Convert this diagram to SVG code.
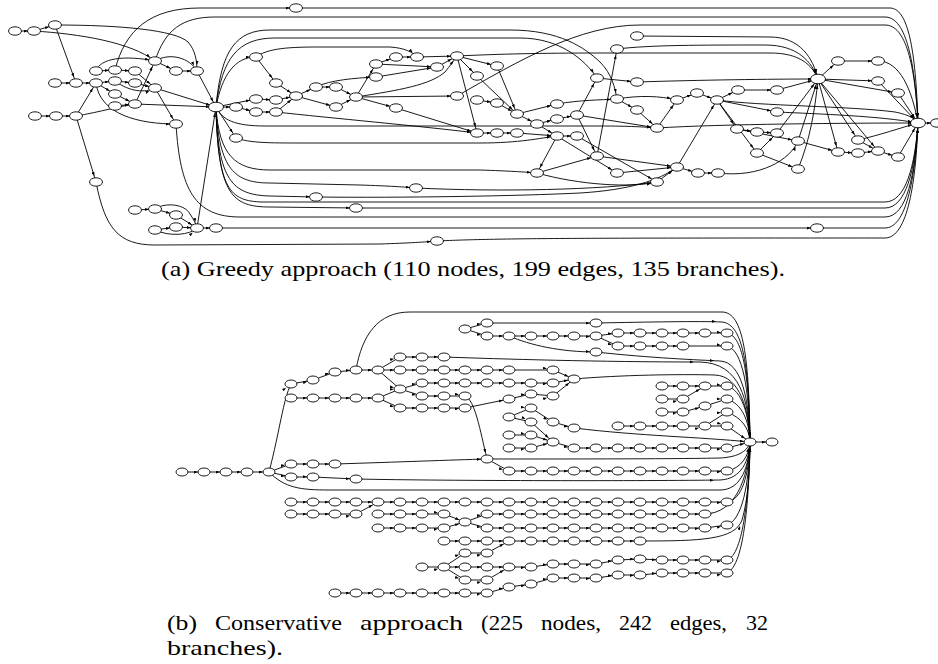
<svg xmlns="http://www.w3.org/2000/svg" xmlns:xlink="http://www.w3.org/1999/xlink" width="938" height="664" viewBox="0 0 938 664">
<style>
.e path,.e polyline{fill:none;stroke:#000;stroke-width:0.9;marker-end:url(#ar)}
.e .m{marker-mid:url(#ar)}
.nd{fill:#fff;stroke:#000;stroke-width:0.9}
.cap{font-family:"Liberation Serif","DejaVu Serif",serif;font-size:22px;fill:#000}
</style>
<defs>
<marker id="ar" viewBox="0 0 4 3" refX="10.2" refY="1.5" markerWidth="4" markerHeight="3" markerUnits="userSpaceOnUse" orient="auto"><path d="M0,0L4,1.5L0,3z" fill="#000"/></marker>
<ellipse id="na" class="nd" rx="6.5" ry="4.2"/>
<ellipse id="nh" class="nd" rx="7.5" ry="4.8"/>
<ellipse id="nb" class="nd" rx="6" ry="4"/>
</defs>
<rect width="938" height="664" fill="#fff"/>

<g id="connectors-a" class="e">
<path d="M15,31L34,31"/><path d="M34,31L55,25"/>
<path d="M34,31C80,34 130,42 155,61"/>
<path d="M55,25C120,25 175,30 188,42C195,50 197,60 197,71"/>
<path d="M55,25L76,83"/>
<path d="M55,83L76,83"/><path d="M76,83L96,83"/><path d="M96,83L115,81"/><path d="M96,83L115,94"/>
<path d="M96,83C100,115 140,124 176,124"/>
<path d="M115,81L135,83"/><path d="M135,83L155,88"/>
<path d="M115,81C130,92 145,93 155,88"/>
<path d="M115,94L135,104"/><path d="M115,106L135,104"/>
<path d="M35,116L56,116"/><path d="M56,116L76,116"/><path d="M76,116L96,83"/>
<path d="M76,116C100,112 120,106 135,104"/>
<path d="M76,116L96,182"/>
<path d="M96,71L115,70"/>
<path d="M96,71C100,58 125,55 155,61"/>
<path d="M115,70L135,71"/><path d="M135,71L155,88"/>
<path d="M115,70C125,30 150,8 200,8L296,8"/>
<path d="M155,61L176,71"/><path d="M176,71L197,71"/>
<path d="M155,61C170,52 190,58 197,71"/>
<path d="M155,61C165,30 182,17 215,17L885,17C907,17 915,65 918,123"/>
<path d="M135,104L155,61"/><path d="M135,104L216,107"/><path d="M155,88L216,107"/><path d="M155,88L176,124"/><path d="M197,71L216,107"/>
<path d="M176,124C180,190 195,217 240,217L885,217C907,217 915,175 918,123"/>
<path d="M96,182C105,228 118,245 155,245L380,244C410,243 425,242 437,241"/>
<path d="M437,241C500,238 600,238 885,238C908,238 916,180 918,123"/>
<path d="M135,210L155,209"/><path d="M155,209L176,215"/><path d="M176,215L197,228"/>
<path d="M155,209C165,202 185,204 190,214C194,220 196,224 197,228"/>
<path d="M155,230L176,227"/><path d="M176,227L197,228"/>
<path d="M155,230C170,237 190,235 197,228"/>
<path d="M197,228L216,107"/><path d="M197,228L216,228"/>
<path d="M216,228L817,228"/>
<path d="M817,228L885,228C906,228 915,180 918,123"/>
<path d="M296,8L890,8C910,8 916,60 918,123"/>
<path d="M216,107L236,107"/><path d="M216,107L236,138"/><path d="M216,107L256,99"/>
<path d="M236,107L256,112"/>
<path d="M216,107C222,75 235,57 256,57"/>
<path d="M216,107C221,50 236,30 270,30L510,30C560,30 585,48 600,62C612,74 615,88 617,99"/>
<path d="M216,107C222,58 238,38 275,38L520,38C560,38 585,60 597,78"/>
<path d="M216,107C222,120 235,126 265,126L600,126C630,126 645,127 657,128"/>
<path d="M236,138C250,143 270,143 300,143L480,143C520,143 540,138 557,136"/>
<path d="M216,107C219,155 235,170 270,170L480,170C510,171 525,172 537,173"/>
<path d="M216,107C219,170 235,183 270,183L360,185C390,186 405,187 416,188"/>
<path d="M416,188C500,192 600,190 657,182"/>
<path d="M216,107C218,180 232,195 270,196L316,197"/>
<path d="M316,197C400,198 520,196 580,193C630,190 660,180 677,167"/>
<path d="M216,107C218,195 232,207 270,207L356,208"/>
<path d="M356,208L885,208C906,208 915,170 918,123"/>
<path d="M216,107C218,190 230,201 262,202L885,202C906,202 915,165 918,123"/>
<path d="M256,57C268,48 290,47 320,47L390,47C405,48 412,52 417,57"/>
<path d="M256,57L276,83"/><path d="M276,83L296,96"/>
<path d="M256,99L276,100"/><path d="M276,100L296,96"/>
<path d="M256,112L276,112"/><path d="M276,112L296,96"/>
<path d="M296,96L316,87"/><path d="M316,87L336,87"/><path d="M336,87L356,97"/>
<path d="M296,96L336,107"/><path d="M336,107L356,97"/>
<path d="M316,87C330,80 355,78 376,77"/>
<path d="M356,97L376,64"/><path d="M356,97L396,108"/><path d="M356,97L457,96"/>
<path d="M356,97C400,90 430,85 445,72C450,66 454,60 457,56"/>
<path d="M376,64L396,57"/><path d="M396,57L417,57"/><path d="M417,57L457,56"/>
<path d="M376,64L437,67"/><path d="M376,77L437,67"/><path d="M437,67L457,56"/>
<path d="M457,56L477,76"/><path d="M457,56L497,66"/><path d="M457,56L477,133"/>
<path d="M457,56C500,54 540,53 600,53L770,53C800,53 812,65 818,79"/>
<path d="M276,112C330,118 420,126 477,133"/>
<path d="M396,108L477,133"/>
<path d="M457,96C520,60 580,25 640,25L885,25C906,25 915,65 918,123"/>
<path d="M477,76L517,114"/><path d="M477,100L497,103"/><path d="M497,103L517,114"/><path d="M497,66L517,114"/>
<path d="M517,114L557,104"/><path d="M517,114L537,124"/><path d="M537,124L557,119"/><path d="M557,119L577,115"/>
<path d="M537,124L557,136"/>
<path d="M557,104C580,100 600,100 617,99"/>
<path d="M577,115L597,78"/><path d="M577,115L597,156"/><path d="M577,115L657,128"/>
<path d="M597,78L637,82"/>
<path d="M617,99L637,110"/><path d="M617,99C640,95 660,96 677,100"/>
<path d="M637,110L657,128"/><path d="M657,128L677,100"/>
<path d="M677,100L697,93"/><path d="M697,93L717,100"/>
<path d="M477,133L497,133"/><path d="M497,133L517,133"/><path d="M517,133L557,136"/><path d="M557,136L577,136"/>
<path d="M557,136L537,173"/><path d="M557,136L617,173"/>
<path d="M577,136L657,182"/>
<path d="M537,173L597,156"/>
<path d="M537,173C580,185 630,188 657,182"/>
<path d="M597,156L617,49"/><path d="M597,156L677,167"/><path d="M617,173L677,167"/><path d="M657,182L677,167"/>
<path d="M677,167L698,173"/><path d="M698,173L718,173"/>
<path d="M677,167L717,100"/>
<path d="M718,173C760,178 790,160 798,141"/>
<path d="M637,36L770,37C800,37 813,58 818,79"/>
<path d="M617,49C650,45 700,45 765,45C798,45 812,62 818,79"/>
<path d="M637,82C700,80 770,79 818,79"/>
<path d="M717,100L738,90"/><path d="M738,90L777,90"/><path d="M777,90L818,79"/>
<path d="M717,100L737,129"/><path d="M717,100L757,153"/><path d="M717,100L777,112"/>
<path d="M717,100C760,106 850,106 895,112C910,115 915,119 918,123"/>
<path d="M777,112C820,114 880,116 918,123"/>
<path d="M657,128C720,124 850,123 918,123"/>
<path d="M737,129L757,132"/><path d="M757,132L777,133"/><path d="M757,153L777,133"/><path d="M777,133L818,79"/>
<path d="M737,129L798,141"/><path d="M798,141L818,79"/><path d="M798,141L838,152"/>
<path d="M757,153L798,169"/>
<path d="M798,169C810,140 815,110 818,79"/>
<path d="M818,79L838,61"/><path d="M838,61L878,61"/>
<path d="M878,61C900,61 912,90 918,123"/>
<path d="M818,79L878,81"/><path d="M878,81L918,123"/>
<path d="M818,79L898,93"/><path d="M898,93L918,123"/>
<path d="M818,79L858,140"/><path d="M818,79L838,152"/><path d="M818,79L878,151"/>
<path d="M858,140C880,135 900,128 918,123"/>
<path d="M838,152L858,153"/><path d="M858,153L878,151"/><path d="M858,140L878,151"/><path d="M878,151L898,157"/>
<path d="M898,157L918,123"/>
<path d="M918,123L937,123"/>
</g>

<g id="connectors-b" class="e">
<path class="m" d="M182,472L204,472L226,472L247,472L269,472"/>
<path class="m" d="M269,472C280,430 283,400 291,384L313,380L335,372L356,370L378,370"/>
<path class="m" d="M291,398L313,398L335,398L356,398L378,398"/>
<path class="m" d="M378,370L400,357L422,357L444,357C500,359 600,362 700,362C740,363 749,400 750,442"/>
<path class="m" d="M378,370L400,370L422,370L444,370L465,370L487,370L509,370L553,370L574,379"/>
<path class="m" d="M378,370L400,389L422,383L444,383L465,383L487,383L509,383L531,383L553,383L574,379"/>
<path class="m" d="M378,398L400,389L422,396L444,396L465,396C475,400 480,430 487,459"/>
<path class="m" d="M378,398L400,408L422,408L444,408L465,408L509,399L531,394L553,396L574,379"/>
<path d="M574,379C620,375 680,374 715,375C740,376 749,410 750,442"/>
<path d="M356,370C362,335 378,312 410,312L722,312C744,312 749,360 750,442"/>
<path class="m" d="M465,329L487,323L596,323C650,322 700,321 722,322C744,324 749,370 750,442"/>
<path class="m" d="M465,329L487,336L509,336L531,336L553,336L574,336L596,336L618,333L640,333L662,333L683,333L705,333L727,333C744,336 749,380 750,442"/>
<path class="m" d="M596,336L618,346L640,346L662,346L683,346L727,346C743,350 749,390 750,442"/>
<path class="m" d="M509,336C530,345 560,352 596,352C650,358 700,360 720,361C742,362 749,400 750,442"/>
<path class="m" d="M269,472L291,464L313,464L335,464C400,462 450,460 487,459"/>
<path class="m" d="M269,472L291,477L313,477L356,479C450,481 650,481 720,480C742,479 749,460 750,442"/>
<path d="M269,472C285,488 300,490 330,490L720,490C742,490 749,465 750,442"/>
<path class="m" d="M487,459L509,471L531,471L553,471L574,471L596,471L618,471L640,471L662,471L683,471L705,471L727,471C742,468 749,455 750,442"/>
<path d="M487,459C560,459 680,459 720,458C740,457 748,450 750,442"/>
<path class="m" d="M509,417L531,408L553,422L574,428C640,436 700,437 750,442"/>
<path class="m" d="M509,417L531,422L553,442"/>
<path class="m" d="M509,435L531,435L553,442"/>
<path class="m" d="M509,448L531,448L553,442"/>
<path class="m" d="M553,442L574,448L596,448L618,448L640,448L662,448L683,448L705,448L727,448L750,442"/>
<path class="m" d="M662,386L683,386L705,386L727,386C742,390 749,415 750,442"/>
<path class="m" d="M662,399L683,399L705,386"/>
<path class="m" d="M662,412L683,412L705,406L727,399C742,404 749,420 750,442"/>
<path class="m" d="M618,426L640,426L662,426L683,426L705,426L727,412C742,418 749,428 750,442"/>
<path class="m" d="M705,426L727,426L750,442"/>
<path d="M750,442L772,442"/>
<path class="m" d="M291,502L313,502L335,502L356,502L378,502L400,502L422,502L444,502L465,502L487,502L509,502L531,502L553,502L574,502L596,502L618,502L640,502L662,502L683,502L705,502L727,502C742,500 749,475 750,442"/>
<path class="m" d="M291,514L313,514L335,514L356,514L378,502"/>
<path class="m" d="M378,514L400,514L422,514L444,514L465,522"/>
<path class="m" d="M378,528L400,528L422,528L444,528L465,522"/>
<path class="m" d="M465,522L487,514L509,514L531,514L553,514L574,514L596,514L618,514L640,514L662,514L683,514L705,514C735,513 748,480 750,442"/>
<path class="m" d="M465,522L487,528L509,528L531,528L553,528L574,528L596,528L618,528L640,528L662,528L683,528L705,528L727,525C742,520 749,485 750,442"/>
<path class="m" d="M444,541L465,541L487,541L509,541L531,541L553,541L574,541L596,541L618,541L640,541C700,541 735,540 742,520C748,500 750,470 750,442"/>
<path class="m" d="M422,567L444,567L465,553L487,553L509,541"/>
<path class="m" d="M444,567L465,567L487,567L509,567L531,567L553,564L574,564L596,564L618,560L640,559L662,560L683,560L705,560L727,560C744,555 749,490 750,442"/>
<path class="m" d="M444,567L465,580L487,580L509,567"/>
<path class="m" d="M335,593L356,593L378,593L400,593L422,593L444,593L465,593L487,593L509,587L531,584L553,578L574,578L596,578L618,575L640,575L662,573L683,573L705,573L727,573C745,565 749,495 750,442"/>
</g>

<g id="nodes-a">
<g id="a1"><use href="#na" x="15" y="31"/></g><g id="a2"><use href="#na" x="34" y="31"/></g><g id="a3"><use href="#na" x="55" y="25"/></g>
<g id="a4"><use href="#na" x="96" y="71"/></g><g id="a5"><use href="#na" x="115" y="70"/></g><g id="a6"><use href="#na" x="135" y="71"/></g><g id="a7"><use href="#na" x="155" y="61"/></g><g id="a8"><use href="#na" x="176" y="71"/></g><g id="a9"><use href="#na" x="197" y="71"/></g>
<g id="a10"><use href="#na" x="55" y="83"/></g><g id="a11"><use href="#na" x="76" y="83"/></g><g id="a12"><use href="#na" x="96" y="83"/></g><g id="a13"><use href="#na" x="115" y="81"/></g><g id="a14"><use href="#na" x="135" y="83"/></g><g id="a15"><use href="#na" x="155" y="88"/></g>
<g id="a16"><use href="#na" x="115" y="94"/></g><g id="a17"><use href="#na" x="115" y="106"/></g><g id="a18"><use href="#na" x="135" y="104"/></g>
<g id="a19"><use href="#na" x="35" y="116"/></g><g id="a20"><use href="#na" x="56" y="116"/></g><g id="a21"><use href="#na" x="76" y="116"/></g>
<g id="a22"><use href="#na" x="176" y="124"/></g><g id="a23"><use href="#nh" x="216" y="107"/></g><g id="a24"><use href="#na" x="236" y="107"/></g><g id="a25"><use href="#na" x="236" y="138"/></g><g id="a26"><use href="#na" x="96" y="182"/></g>
<g id="a27"><use href="#na" x="135" y="210"/></g><g id="a28"><use href="#na" x="155" y="209"/></g><g id="a29"><use href="#na" x="176" y="215"/></g><g id="a30"><use href="#na" x="176" y="227"/></g><g id="a31"><use href="#na" x="155" y="230"/></g><g id="a32"><use href="#na" x="197" y="228"/></g><g id="a33"><use href="#na" x="216" y="228"/></g>
<g id="a34"><use href="#na" x="296" y="8"/></g><g id="a35"><use href="#na" x="256" y="57"/></g><g id="a36"><use href="#na" x="276" y="83"/></g><g id="a37"><use href="#na" x="296" y="96"/></g><g id="a38"><use href="#na" x="316" y="87"/></g><g id="a39"><use href="#na" x="336" y="87"/></g><g id="a40"><use href="#na" x="356" y="97"/></g>
<g id="a41"><use href="#na" x="376" y="64"/></g><g id="a42"><use href="#na" x="376" y="77"/></g><g id="a43"><use href="#na" x="396" y="57"/></g><g id="a44"><use href="#na" x="417" y="57"/></g><g id="a45"><use href="#na" x="437" y="67"/></g><g id="a46"><use href="#na" x="457" y="56"/></g>
<g id="a47"><use href="#na" x="256" y="99"/></g><g id="a48"><use href="#na" x="276" y="100"/></g><g id="a49"><use href="#na" x="256" y="112"/></g><g id="a50"><use href="#na" x="276" y="112"/></g><g id="a51"><use href="#na" x="336" y="107"/></g><g id="a52"><use href="#na" x="396" y="108"/></g><g id="a53"><use href="#na" x="457" y="96"/></g>
<g id="a54"><use href="#na" x="477" y="76"/></g><g id="a55"><use href="#na" x="477" y="100"/></g><g id="a56"><use href="#na" x="477" y="133"/></g>
<g id="a57"><use href="#na" x="416" y="188"/></g><g id="a58"><use href="#na" x="316" y="197"/></g><g id="a59"><use href="#na" x="356" y="208"/></g><g id="a60"><use href="#na" x="437" y="241"/></g>
<g id="a61"><use href="#na" x="637" y="36"/></g><g id="a62"><use href="#na" x="617" y="49"/></g><g id="a63"><use href="#na" x="497" y="66"/></g><g id="a64"><use href="#na" x="597" y="78"/></g><g id="a65"><use href="#na" x="637" y="82"/></g>
<g id="a66"><use href="#na" x="497" y="103"/></g><g id="a67"><use href="#na" x="517" y="114"/></g><g id="a68"><use href="#na" x="537" y="124"/></g><g id="a69"><use href="#na" x="557" y="104"/></g><g id="a70"><use href="#na" x="557" y="119"/></g><g id="a71"><use href="#na" x="577" y="115"/></g>
<g id="a72"><use href="#na" x="617" y="99"/></g><g id="a73"><use href="#na" x="637" y="110"/></g><g id="a74"><use href="#na" x="677" y="100"/></g><g id="a75"><use href="#na" x="697" y="93"/></g><g id="a76"><use href="#na" x="717" y="100"/></g>
<g id="a77"><use href="#na" x="497" y="133"/></g><g id="a78"><use href="#na" x="517" y="133"/></g><g id="a79"><use href="#na" x="557" y="136"/></g><g id="a80"><use href="#na" x="577" y="136"/></g><g id="a81"><use href="#na" x="657" y="128"/></g>
<g id="a82"><use href="#na" x="597" y="156"/></g><g id="a83"><use href="#na" x="537" y="173"/></g><g id="a84"><use href="#na" x="617" y="173"/></g><g id="a85"><use href="#na" x="657" y="182"/></g><g id="a86"><use href="#na" x="677" y="167"/></g><g id="a87"><use href="#na" x="698" y="173"/></g><g id="a88"><use href="#na" x="718" y="173"/></g>
<g id="a89"><use href="#na" x="838" y="61"/></g><g id="a90"><use href="#na" x="878" y="61"/></g><g id="a91"><use href="#nh" x="818" y="79"/></g><g id="a92"><use href="#na" x="878" y="81"/></g><g id="a93"><use href="#na" x="898" y="93"/></g>
<g id="a94"><use href="#na" x="738" y="90"/></g><g id="a95"><use href="#na" x="777" y="90"/></g><g id="a97"><use href="#na" x="777" y="112"/></g>
<g id="a98"><use href="#nh" x="918" y="123"/></g><g id="a99"><use href="#na" x="937" y="123"/></g>
<g id="a100"><use href="#na" x="737" y="129"/></g><g id="a101"><use href="#na" x="757" y="132"/></g><g id="a102"><use href="#na" x="777" y="133"/></g><g id="a103"><use href="#na" x="798" y="141"/></g><g id="a104"><use href="#na" x="858" y="140"/></g><g id="a105"><use href="#na" x="838" y="152"/></g><g id="a106"><use href="#na" x="858" y="153"/></g><g id="a107"><use href="#na" x="878" y="151"/></g><g id="a108"><use href="#na" x="898" y="157"/></g><g id="a109"><use href="#na" x="757" y="153"/></g><g id="a110"><use href="#na" x="798" y="169"/></g><g id="a111"><use href="#na" x="817" y="228"/></g>
</g>

<g id="nodes-b">
<g id="b1"><use href="#nb" x="182" y="472"/></g><g id="b2"><use href="#nb" x="204" y="472"/></g><g id="b3"><use href="#nb" x="226" y="472"/></g><g id="b4"><use href="#nb" x="247" y="472"/></g><g id="b5"><use href="#nb" x="269" y="472"/></g>
<g id="b6"><use href="#nb" x="291" y="384"/></g><g id="b7"><use href="#nb" x="313" y="380"/></g><g id="b8"><use href="#nb" x="335" y="372"/></g><g id="b9"><use href="#nb" x="356" y="370"/></g><g id="b10"><use href="#nb" x="378" y="370"/></g>
<g id="b11"><use href="#nb" x="291" y="398"/></g><g id="b12"><use href="#nb" x="313" y="398"/></g><g id="b13"><use href="#nb" x="335" y="398"/></g><g id="b14"><use href="#nb" x="356" y="398"/></g><g id="b15"><use href="#nb" x="378" y="398"/></g>
<g id="b16"><use href="#nb" x="400" y="357"/></g><g id="b17"><use href="#nb" x="422" y="357"/></g><g id="b18"><use href="#nb" x="444" y="357"/></g>
<g id="b19"><use href="#nb" x="400" y="370"/></g><g id="b20"><use href="#nb" x="422" y="370"/></g><g id="b21"><use href="#nb" x="444" y="370"/></g><g id="b22"><use href="#nb" x="465" y="370"/></g><g id="b23"><use href="#nb" x="487" y="370"/></g><g id="b24"><use href="#nb" x="509" y="370"/></g><g id="b25"><use href="#nb" x="553" y="370"/></g>
<g id="b26"><use href="#nb" x="400" y="389"/></g>
<g id="b27"><use href="#nb" x="422" y="383"/></g><g id="b28"><use href="#nb" x="444" y="383"/></g><g id="b29"><use href="#nb" x="465" y="383"/></g><g id="b30"><use href="#nb" x="487" y="383"/></g><g id="b31"><use href="#nb" x="509" y="383"/></g><g id="b32"><use href="#nb" x="531" y="383"/></g><g id="b33"><use href="#nb" x="553" y="383"/></g>
<g id="b34"><use href="#nb" x="422" y="396"/></g><g id="b35"><use href="#nb" x="444" y="396"/></g><g id="b36"><use href="#nb" x="465" y="396"/></g>
<g id="b37"><use href="#nb" x="400" y="408"/></g><g id="b38"><use href="#nb" x="422" y="408"/></g><g id="b39"><use href="#nb" x="444" y="408"/></g><g id="b40"><use href="#nb" x="465" y="408"/></g><g id="b41"><use href="#nb" x="509" y="399"/></g><g id="b42"><use href="#nb" x="531" y="394"/></g><g id="b43"><use href="#nb" x="553" y="396"/></g>
<g id="b44"><use href="#nb" x="574" y="379"/></g>
<g id="b45"><use href="#nb" x="465" y="329"/></g><g id="b46"><use href="#nb" x="487" y="323"/></g><g id="b47"><use href="#nb" x="596" y="323"/></g>
<g id="b48"><use href="#nb" x="487" y="336"/></g><g id="b49"><use href="#nb" x="509" y="336"/></g><g id="b50"><use href="#nb" x="531" y="336"/></g><g id="b51"><use href="#nb" x="553" y="336"/></g><g id="b52"><use href="#nb" x="574" y="336"/></g><g id="b53"><use href="#nb" x="596" y="336"/></g>
<g id="b54"><use href="#nb" x="618" y="333"/></g><g id="b55"><use href="#nb" x="640" y="333"/></g><g id="b56"><use href="#nb" x="662" y="333"/></g><g id="b57"><use href="#nb" x="683" y="333"/></g><g id="b58"><use href="#nb" x="705" y="333"/></g><g id="b59"><use href="#nb" x="727" y="333"/></g>
<g id="b60"><use href="#nb" x="618" y="346"/></g><g id="b61"><use href="#nb" x="640" y="346"/></g><g id="b62"><use href="#nb" x="662" y="346"/></g><g id="b63"><use href="#nb" x="683" y="346"/></g><g id="b64"><use href="#nb" x="727" y="346"/></g>
<g id="b65"><use href="#nb" x="596" y="352"/></g>
<g id="b66"><use href="#nb" x="291" y="464"/></g><g id="b67"><use href="#nb" x="313" y="464"/></g><g id="b68"><use href="#nb" x="335" y="464"/></g>
<g id="b69"><use href="#nb" x="291" y="477"/></g><g id="b70"><use href="#nb" x="313" y="477"/></g><g id="b71"><use href="#nb" x="356" y="479"/></g>
<g id="b72"><use href="#nb" x="487" y="459"/></g>
<g id="b73"><use href="#nb" x="509" y="471"/></g><g id="b74"><use href="#nb" x="531" y="471"/></g><g id="b75"><use href="#nb" x="553" y="471"/></g><g id="b76"><use href="#nb" x="574" y="471"/></g><g id="b77"><use href="#nb" x="596" y="471"/></g><g id="b78"><use href="#nb" x="618" y="471"/></g><g id="b79"><use href="#nb" x="640" y="471"/></g><g id="b80"><use href="#nb" x="662" y="471"/></g><g id="b81"><use href="#nb" x="683" y="471"/></g><g id="b82"><use href="#nb" x="705" y="471"/></g><g id="b83"><use href="#nb" x="727" y="471"/></g>
<g id="b84"><use href="#nb" x="509" y="417"/></g><g id="b85"><use href="#nb" x="531" y="408"/></g><g id="b86"><use href="#nb" x="531" y="422"/></g><g id="b87"><use href="#nb" x="553" y="422"/></g><g id="b88"><use href="#nb" x="574" y="428"/></g>
<g id="b89"><use href="#nb" x="509" y="435"/></g><g id="b90"><use href="#nb" x="531" y="435"/></g><g id="b91"><use href="#nb" x="509" y="448"/></g><g id="b92"><use href="#nb" x="531" y="448"/></g><g id="b93"><use href="#nb" x="553" y="442"/></g>
<g id="b94"><use href="#nb" x="574" y="448"/></g><g id="b95"><use href="#nb" x="596" y="448"/></g><g id="b96"><use href="#nb" x="618" y="448"/></g><g id="b97"><use href="#nb" x="640" y="448"/></g><g id="b98"><use href="#nb" x="662" y="448"/></g><g id="b99"><use href="#nb" x="683" y="448"/></g><g id="b100"><use href="#nb" x="705" y="448"/></g><g id="b101"><use href="#nb" x="727" y="448"/></g>
<g id="b102"><use href="#nb" x="662" y="386"/></g><g id="b103"><use href="#nb" x="683" y="386"/></g><g id="b104"><use href="#nb" x="705" y="386"/></g><g id="b105"><use href="#nb" x="727" y="386"/></g>
<g id="b106"><use href="#nb" x="662" y="399"/></g><g id="b107"><use href="#nb" x="683" y="399"/></g><g id="b108"><use href="#nb" x="727" y="399"/></g>
<g id="b109"><use href="#nb" x="662" y="412"/></g><g id="b110"><use href="#nb" x="683" y="412"/></g><g id="b111"><use href="#nb" x="705" y="406"/></g>
<g id="b112"><use href="#nb" x="618" y="426"/></g><g id="b113"><use href="#nb" x="640" y="426"/></g><g id="b114"><use href="#nb" x="662" y="426"/></g><g id="b115"><use href="#nb" x="683" y="426"/></g><g id="b116"><use href="#nb" x="705" y="426"/></g><g id="b117"><use href="#nb" x="727" y="412"/></g><g id="b118"><use href="#nb" x="727" y="426"/></g>
<g id="b119"><use href="#nb" x="750" y="442"/></g><g id="b120"><use href="#nb" x="772" y="442"/></g>
<g id="b121"><use href="#nb" x="291" y="502"/></g><g id="b122"><use href="#nb" x="313" y="502"/></g><g id="b123"><use href="#nb" x="335" y="502"/></g><g id="b124"><use href="#nb" x="356" y="502"/></g><g id="b125"><use href="#nb" x="378" y="502"/></g><g id="b126"><use href="#nb" x="400" y="502"/></g><g id="b127"><use href="#nb" x="422" y="502"/></g><g id="b128"><use href="#nb" x="444" y="502"/></g><g id="b129"><use href="#nb" x="465" y="502"/></g><g id="b130"><use href="#nb" x="487" y="502"/></g><g id="b131"><use href="#nb" x="509" y="502"/></g><g id="b132"><use href="#nb" x="531" y="502"/></g><g id="b133"><use href="#nb" x="553" y="502"/></g><g id="b134"><use href="#nb" x="574" y="502"/></g><g id="b135"><use href="#nb" x="596" y="502"/></g><g id="b136"><use href="#nb" x="618" y="502"/></g><g id="b137"><use href="#nb" x="640" y="502"/></g><g id="b138"><use href="#nb" x="662" y="502"/></g><g id="b139"><use href="#nb" x="683" y="502"/></g><g id="b140"><use href="#nb" x="705" y="502"/></g><g id="b141"><use href="#nb" x="727" y="502"/></g>
<g id="b142"><use href="#nb" x="291" y="514"/></g><g id="b143"><use href="#nb" x="313" y="514"/></g><g id="b144"><use href="#nb" x="335" y="514"/></g><g id="b145"><use href="#nb" x="356" y="514"/></g>
<g id="b146"><use href="#nb" x="378" y="514"/></g><g id="b147"><use href="#nb" x="400" y="514"/></g><g id="b148"><use href="#nb" x="422" y="514"/></g><g id="b149"><use href="#nb" x="444" y="514"/></g>
<g id="b150"><use href="#nb" x="378" y="528"/></g><g id="b151"><use href="#nb" x="400" y="528"/></g><g id="b152"><use href="#nb" x="422" y="528"/></g><g id="b153"><use href="#nb" x="444" y="528"/></g>
<g id="b154"><use href="#nb" x="465" y="522"/></g>
<g id="b155"><use href="#nb" x="487" y="514"/></g><g id="b156"><use href="#nb" x="509" y="514"/></g><g id="b157"><use href="#nb" x="531" y="514"/></g><g id="b158"><use href="#nb" x="553" y="514"/></g><g id="b159"><use href="#nb" x="574" y="514"/></g><g id="b160"><use href="#nb" x="596" y="514"/></g><g id="b161"><use href="#nb" x="618" y="514"/></g><g id="b162"><use href="#nb" x="640" y="514"/></g><g id="b163"><use href="#nb" x="662" y="514"/></g><g id="b164"><use href="#nb" x="683" y="514"/></g><g id="b165"><use href="#nb" x="705" y="514"/></g>
<g id="b166"><use href="#nb" x="487" y="528"/></g><g id="b167"><use href="#nb" x="509" y="528"/></g><g id="b168"><use href="#nb" x="531" y="528"/></g><g id="b169"><use href="#nb" x="553" y="528"/></g><g id="b170"><use href="#nb" x="574" y="528"/></g><g id="b171"><use href="#nb" x="596" y="528"/></g><g id="b172"><use href="#nb" x="618" y="528"/></g><g id="b173"><use href="#nb" x="640" y="528"/></g><g id="b174"><use href="#nb" x="662" y="528"/></g><g id="b175"><use href="#nb" x="683" y="528"/></g><g id="b176"><use href="#nb" x="705" y="528"/></g><g id="b177"><use href="#nb" x="727" y="525"/></g>
<g id="b178"><use href="#nb" x="444" y="541"/></g><g id="b179"><use href="#nb" x="465" y="541"/></g><g id="b180"><use href="#nb" x="487" y="541"/></g><g id="b181"><use href="#nb" x="509" y="541"/></g><g id="b182"><use href="#nb" x="531" y="541"/></g><g id="b183"><use href="#nb" x="553" y="541"/></g><g id="b184"><use href="#nb" x="574" y="541"/></g><g id="b185"><use href="#nb" x="596" y="541"/></g><g id="b186"><use href="#nb" x="618" y="541"/></g><g id="b187"><use href="#nb" x="640" y="541"/></g>
<g id="b188"><use href="#nb" x="422" y="567"/></g><g id="b189"><use href="#nb" x="444" y="567"/></g><g id="b190"><use href="#nb" x="465" y="553"/></g><g id="b191"><use href="#nb" x="487" y="553"/></g><g id="b192"><use href="#nb" x="465" y="567"/></g><g id="b193"><use href="#nb" x="487" y="567"/></g><g id="b194"><use href="#nb" x="509" y="567"/></g><g id="b195"><use href="#nb" x="531" y="567"/></g><g id="b196"><use href="#nb" x="553" y="564"/></g><g id="b197"><use href="#nb" x="574" y="564"/></g><g id="b198"><use href="#nb" x="596" y="564"/></g><g id="b199"><use href="#nb" x="618" y="560"/></g><g id="b200"><use href="#nb" x="640" y="559"/></g><g id="b201"><use href="#nb" x="662" y="560"/></g><g id="b202"><use href="#nb" x="683" y="560"/></g><g id="b203"><use href="#nb" x="705" y="560"/></g><g id="b204"><use href="#nb" x="727" y="560"/></g><g id="b205"><use href="#nb" x="465" y="580"/></g><g id="b206"><use href="#nb" x="487" y="580"/></g>
<g id="b207"><use href="#nb" x="335" y="593"/></g><g id="b208"><use href="#nb" x="356" y="593"/></g><g id="b209"><use href="#nb" x="378" y="593"/></g><g id="b210"><use href="#nb" x="400" y="593"/></g><g id="b211"><use href="#nb" x="422" y="593"/></g><g id="b212"><use href="#nb" x="444" y="593"/></g><g id="b213"><use href="#nb" x="465" y="593"/></g><g id="b214"><use href="#nb" x="487" y="593"/></g>
<g id="b215"><use href="#nb" x="509" y="587"/></g><g id="b216"><use href="#nb" x="531" y="584"/></g><g id="b217"><use href="#nb" x="553" y="578"/></g><g id="b218"><use href="#nb" x="574" y="578"/></g><g id="b219"><use href="#nb" x="596" y="578"/></g><g id="b220"><use href="#nb" x="618" y="575"/></g><g id="b221"><use href="#nb" x="640" y="575"/></g><g id="b222"><use href="#nb" x="662" y="573"/></g><g id="b223"><use href="#nb" x="683" y="573"/></g><g id="b224"><use href="#nb" x="705" y="573"/></g><g id="b225"><use href="#nb" x="727" y="573"/></g>
</g>

<g id="captions">
<text class="cap" x="161" y="276" textLength="624" lengthAdjust="spacingAndGlyphs">(a) Greedy approach (110 nodes, 199 edges, 135 branches).</text>
<text class="cap" x="167" y="630" textLength="30" lengthAdjust="spacingAndGlyphs">(b)</text>
<text class="cap" x="215" y="630" textLength="127" lengthAdjust="spacingAndGlyphs">Conservative</text>
<text class="cap" x="360" y="630" textLength="103" lengthAdjust="spacingAndGlyphs">approach</text>
<text class="cap" x="481" y="630" textLength="42" lengthAdjust="spacingAndGlyphs">(225</text>
<text class="cap" x="541" y="630" textLength="60" lengthAdjust="spacingAndGlyphs">nodes,</text>
<text class="cap" x="619" y="630" textLength="33" lengthAdjust="spacingAndGlyphs">242</text>
<text class="cap" x="670" y="630" textLength="57" lengthAdjust="spacingAndGlyphs">edges,</text>
<text class="cap" x="746" y="630" textLength="22" lengthAdjust="spacingAndGlyphs">32</text>
<text class="cap" x="167" y="655" textLength="116" lengthAdjust="spacingAndGlyphs">branches).</text>
</g>
</svg>
